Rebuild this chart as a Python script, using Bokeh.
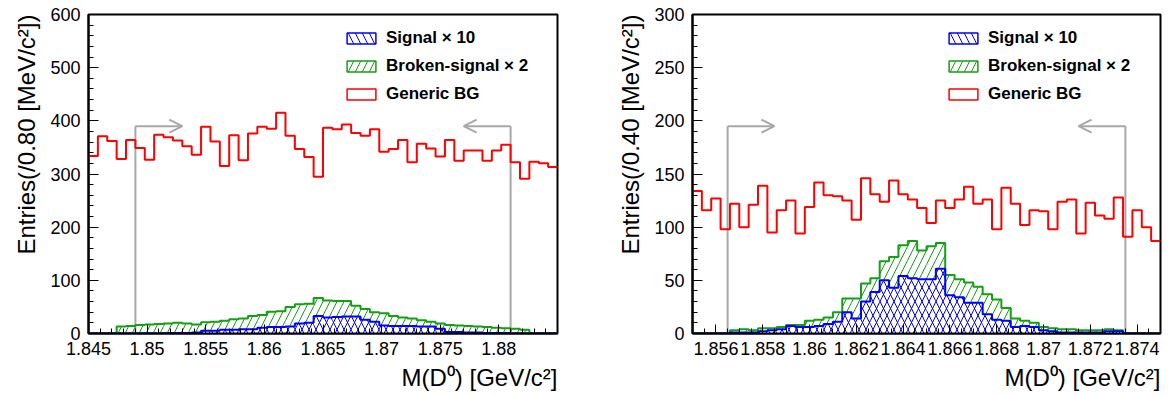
import numpy as np
from bokeh.plotting import figure
from bokeh.layouts import row
from bokeh.models import (Range1d, FixedTicker, Arrow, OpenHead, Legend,
                          LegendItem, Title)
from bokeh.embed import file_html
from bokeh.resources import INLINE

# ---------------- data ----------------
left_range = (1.845, 1.885)
left_nbins = 50
left_generic_bg = [334, 371, 362, 328, 364, 349, 327, 374, 369, 363, 352, 336, 389, 361, 315,
                   373, 326, 376, 389, 385, 415, 372, 347, 332, 295, 387, 384, 393, 377, 372,
                   384, 342, 347, 364, 322, 357, 348, 333, 364, 325, 344, 344, 325, 344, 355,
                   322, 291, 323, 320, 313]
left_broken_x2 = [0, 0, 0, 13, 14, 16, 17, 18, 19, 20, 19, 17, 21, 22, 24, 27, 28, 33, 35, 41,
                  42, 50, 55, 56, 67, 62, 61, 61, 52, 46, 40, 38, 33, 30, 28, 25, 22, 19, 16, 15,
                  14, 13, 12, 11, 10, 9, 7, 0, 0, 0]
left_signal_x10 = [0, 0, 0, 0, 0, 0, 0, 0, 1, 1, 1, 2, 5, 5, 7, 7, 8, 8, 11, 12, 12, 13, 19, 20,
                   33, 30, 31, 32, 32, 26, 22, 15, 14, 14, 14, 13, 13, 9, 3, 3, 2, 2, 1, 1, 1,
                   0, 0, 0, 0, 0]
left_cuts = [1.849, 1.881]
left_arrow_len = 0.004
left_arrow_y = 390
left_xticks = [1.845, 1.85, 1.855, 1.86, 1.865, 1.87, 1.875, 1.88]
left_xlabels = ["1.845", "1.85", "1.855", "1.86", "1.865", "1.87", "1.875", "1.88"]
left_yticks = [0, 100, 200, 300, 400, 500, 600]
left_ytitle = "Entries(/0.80 [MeV/c\u00b2])"

right_range = (1.855, 1.875)
right_nbins = 50
right_generic_bg = [134, 116, 127, 98, 122, 100, 121, 139, 95, 116, 125, 94, 119, 142, 130,
                    129, 125, 107, 146, 131, 124, 144, 131, 126, 118, 104, 125, 118, 126, 138,
                    122, 126, 98, 137, 122, 102, 116, 115, 98, 124, 126, 94, 123, 111, 108,
                    128, 91, 116, 100, 87]
right_broken_x2 = [0, 0, 0, 0, 3, 4, 3, 5, 5, 6, 8, 8, 12, 13, 15, 20, 33, 33, 47, 52, 68, 72,
                   83, 87, 78, 82, 85, 55, 51, 48, 44, 37, 32, 24, 14, 12, 10, 6, 5, 4, 4, 3,
                   3, 3, 4, 3, 0, 0, 0, 0]
right_signal_x10 = [0, 0, 0, 0, 1, 1, 1, 2, 3, 4, 7, 6, 6, 7, 9, 11, 20, 14, 30, 39, 50, 43,
                    54, 52, 51, 51, 61, 36, 34, 29, 29, 18, 13, 12, 6, 7, 6, 3, 2, 1, 1, 1, 1,
                    1, 2, 2, 0, 0, 0, 0]
right_cuts = [1.8565, 1.8735]
right_arrow_len = 0.002
right_arrow_y = 195
right_xticks = [1.856, 1.858, 1.86, 1.862, 1.864, 1.866, 1.868, 1.87, 1.872, 1.874]
right_xlabels = ["1.856", "1.858", "1.86", "1.862", "1.864", "1.866", "1.868", "1.87",
                 "1.872", "1.874"]
right_yticks = [0, 50, 100, 150, 200, 250, 300]
right_ytitle = "Entries(/0.40 [MeV/c\u00b2])"

xtitle = "M(D\u2070) [GeV/c\u00b2]"
legend_labels = ["Signal \u00d7 10", "Broken-signal \u00d7 2", "Generic BG"]

# ---------------- style ----------------
RED = "#ff0000"
GREEN = "#13a013"
BLUE = "#0000ff"
GRAY = "#a8a8a8"
FONT = "Liberation Sans"
HATCH = 14


def outline(edges, vals):
    # histogram outline: up from zero at the first edge, steps across the bins
    xs = np.repeat(edges, 2)[:-1]
    ys = np.concatenate([[0.0], np.repeat(np.asarray(vals, float), 2)])
    return xs, ys


def make_panel(rng, nbins, bg, broken, signal, cuts, alen, ay, xticks, xlabels,
               yticks, ymax, yminor_step, xminor_step, ytitle, border_left, border_right,
               width, legend_x):
    p = figure(width=width, height=396, x_range=Range1d(*rng), y_range=Range1d(0, ymax),
               output_backend="svg", toolbar_location=None,
               min_border_left=border_left, min_border_right=border_right,
               min_border_top=14, min_border_bottom=63)
    p.extra_y_ranges = {"hidden": Range1d(-1e6, -1e6 + 1)}
    p.background_fill_color = "white"
    p.border_fill_color = "white"
    p.xgrid.visible = False
    p.ygrid.visible = False
    p.outline_line_color = "black"
    p.outline_line_width = 2

    edges = np.linspace(rng[0], rng[1], nbins + 1)

    # cut arrows
    for c, d in zip(cuts, [1, -1]):
        p.line([c, c], [0, ay], line_color=GRAY, line_width=2)
        p.add_layout(Arrow(end=OpenHead(size=13, line_color=GRAY, line_width=2),
                           x_start=c, y_start=ay, x_end=c + d * alen, y_end=ay,
                           line_color=GRAY, line_width=2))

    # generic BG
    xs, ys = outline(edges, bg)
    p.line(xs, ys, line_color=RED, line_width=2)

    # broken signal
    p.quad(left=edges[:-1], right=edges[1:], bottom=0, top=broken, fill_color=None,
           line_color=None, hatch_pattern="/", hatch_color=GREEN, hatch_scale=HATCH,
           hatch_weight=1)
    xs, ys = outline(edges, broken)
    p.line(xs, ys, line_color=GREEN, line_width=2)

    # signal: blue cross-hatch built from two diagonal hatches
    p.quad(left=edges[:-1], right=edges[1:], bottom=0, top=signal, fill_color="white",
           line_color=None, hatch_pattern="\\", hatch_color=BLUE, hatch_scale=HATCH,
           hatch_weight=1)
    p.quad(left=edges[:-1], right=edges[1:], bottom=0, top=signal, fill_color=None,
           line_color=None, hatch_pattern="/", hatch_color=BLUE, hatch_scale=HATCH,
           hatch_weight=1)
    xs, ys = outline(edges, signal)
    p.line(xs, ys, line_color=BLUE, line_width=2)

    # legend proxies (same data, drawn on a range that keeps them out of view)
    kw = dict(left=edges[:-1], right=edges[1:], bottom=0, y_range_name="hidden")
    l1 = p.quad(top=signal, fill_color=None, line_color=BLUE, line_width=1.5,
                hatch_pattern="\\", hatch_color=BLUE, hatch_scale=HATCH, **kw)
    l2 = p.quad(top=broken, fill_color=None, line_color=GREEN, line_width=1.5,
                hatch_pattern="/", hatch_color=GREEN, hatch_scale=HATCH, **kw)
    l3 = p.quad(top=bg, fill_color=None, line_color=RED, line_width=1.5, **kw)
    leg = Legend(items=[LegendItem(label=legend_labels[0], renderers=[l1]),
                        LegendItem(label=legend_labels[1], renderers=[l2]),
                        LegendItem(label=legend_labels[2], renderers=[l3])],
                 location=(legend_x, 229), glyph_width=36, glyph_height=14,
                 label_height=14, spacing=8, padding=0, margin=0, label_standoff=7,
                 label_text_font=FONT, label_text_font_style="bold",
                 label_text_font_size="17px", label_text_color="black",
                 border_line_color=None, background_fill_alpha=0)
    p.add_layout(leg)

    # axes
    xminor = list(np.round(np.arange(rng[0], rng[1] + 1e-9, xminor_step), 5))
    yminor = list(np.arange(0, ymax + 1e-9, yminor_step))
    p.xaxis.ticker = FixedTicker(ticks=xticks, minor_ticks=xminor)
    p.yaxis.ticker = FixedTicker(ticks=yticks, minor_ticks=yminor)
    p.xaxis.major_label_overrides = {t: s for t, s in zip(xticks, xlabels)}
    for ax in (p.xaxis[0], p.yaxis[0]):
        ax.major_tick_out = 0
        ax.minor_tick_out = 0
        ax.axis_line_width = 2
        ax.axis_line_color = "black"
        ax.major_tick_line_color = "black"
        ax.minor_tick_line_color = "black"
        ax.major_label_text_font = FONT
        ax.major_label_text_font_size = "18px"
        ax.major_label_text_color = "black"
        ax.major_label_standoff = 8
    p.xaxis.major_tick_in = 9
    p.xaxis.minor_tick_in = 5
    p.yaxis.major_tick_in = 10
    p.yaxis.minor_tick_in = 5

    # axis titles, aligned to the far end of each axis
    p.add_layout(Title(text=xtitle, align="right", text_font=FONT, text_font_size="24px",
                       text_font_style="normal", text_color="black", standoff=9), "below")
    p.add_layout(Title(text=ytitle, align="right", text_font=FONT, text_font_size="24px",
                       text_font_style="normal", text_color="black", standoff=15), "left")
    return p


p1 = make_panel(left_range, left_nbins, left_generic_bg, left_broken_x2, left_signal_x10,
                left_cuts, left_arrow_len, left_arrow_y, left_xticks, left_xlabels,
                left_yticks, 600, 20, 0.001, left_ytitle, 88, 28, 585, 255)
p2 = make_panel(right_range, right_nbins, right_generic_bg, right_broken_x2,
                right_signal_x10, right_cuts, right_arrow_len, right_arrow_y, right_xticks,
                right_xlabels, right_yticks, 300, 10, 0.0005, right_ytitle, 107, 11, 586, 253)

layout = row(p1, p2)
open("out.html", "w").write(file_html(layout, INLINE))
